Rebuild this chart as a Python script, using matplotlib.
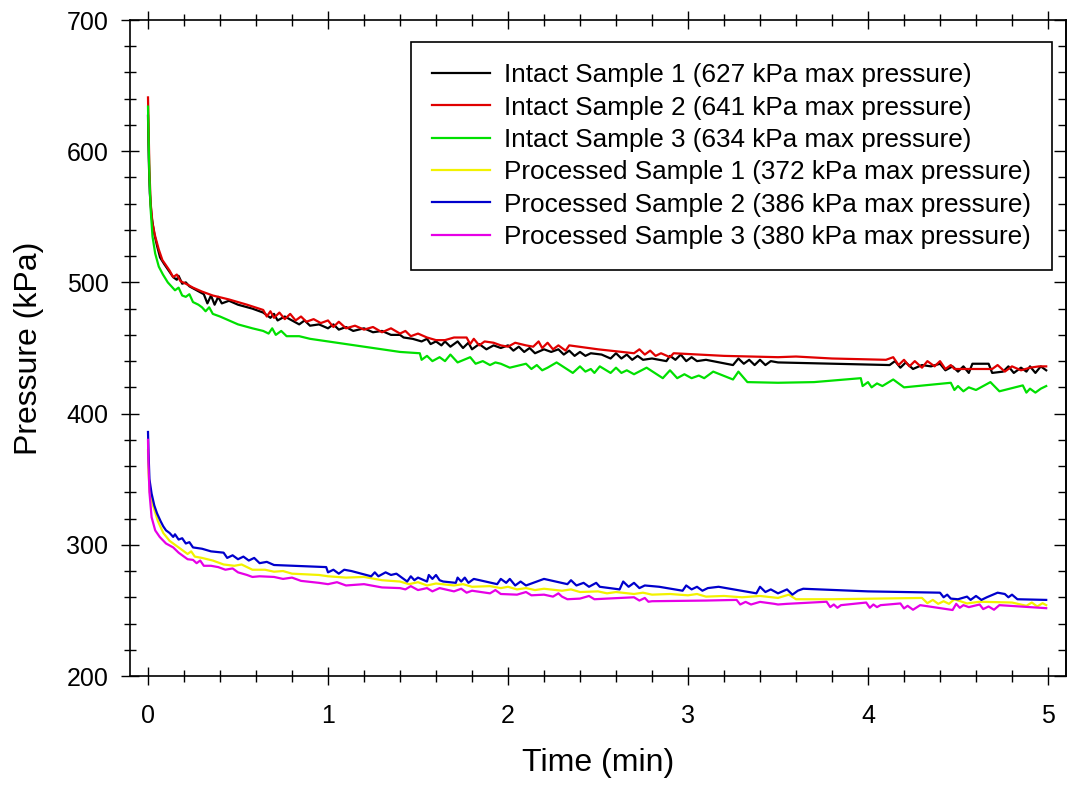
import matplotlib
matplotlib.use("Agg")
import matplotlib.pyplot as plt
from matplotlib.ticker import MultipleLocator

plt.rcParams['font.family'] = ['Liberation Sans', 'DejaVu Sans']

# values (time in min, pressure in kPa)
t_int1 = [0, 0.004, 0.01, 0.02, 0.035, 0.05, 0.067, 0.09, 0.12, 0.14,
          0.16, 0.17, 0.19, 0.21, 0.23, 0.27, 0.31, 0.33, 0.35, 0.37,
          0.39, 0.41, 0.45, 0.5, 0.58, 0.64, 0.68, 0.7, 0.72, 0.76,
          0.8, 0.84, 0.87, 0.9, 0.95, 1.0, 1.03, 1.06, 1.1, 1.14,
          1.2, 1.25, 1.3, 1.35, 1.4, 1.42, 1.47, 1.52, 1.55, 1.57,
          1.6, 1.63, 1.65, 1.68, 1.72, 1.75, 1.78, 1.8, 1.84, 1.88,
          1.92, 1.96, 2.0, 2.03, 2.06, 2.09, 2.12, 2.15, 2.2, 2.24,
          2.28, 2.31, 2.34, 2.37, 2.4, 2.43, 2.46, 2.52, 2.57, 2.6,
          2.63, 2.66, 2.69, 2.72, 2.75, 2.8, 2.88, 2.9, 2.93, 2.96,
          2.99, 3.02, 3.05, 3.1, 3.25, 3.28, 3.31, 3.34, 3.37, 3.4,
          3.43, 3.46, 3.5, 3.8, 4.12, 4.15, 4.18, 4.21, 4.25, 4.3,
          4.35, 4.4, 4.43, 4.47, 4.5, 4.53, 4.56, 4.58, 4.67, 4.69,
          4.75, 4.78, 4.81, 4.85, 4.88, 4.9, 4.93, 4.96, 4.99]
p_int1 = [627, 595, 568, 550, 537, 528, 519, 514, 508, 504,
          502, 505, 499, 500, 497, 494, 491, 484, 490, 483,
          489, 484, 486, 483, 480, 477, 473, 476, 471, 474,
          471, 468, 471, 467, 468, 465, 468, 464, 466, 463,
          465, 462, 463, 460, 460, 458, 457, 455, 457, 453,
          455, 452, 455, 451, 455, 450, 454, 449, 453, 449,
          452, 450, 452, 448, 451, 447, 450, 446, 449, 447,
          449, 445, 448, 444, 447, 444, 446, 445, 442, 446,
          442, 445, 441, 444, 441, 442, 440, 444, 441, 445,
          440, 443, 440, 441, 437, 442, 438, 441, 437, 441,
          437, 440, 439, 438, 437, 440, 435, 439, 434, 437,
          436, 438, 433, 436, 432, 436, 431, 438, 438, 431,
          432, 436, 431, 435, 432, 436, 431, 436, 433]

t_int2 = [0, 0.003, 0.008, 0.015, 0.025, 0.04, 0.06, 0.08, 0.1, 0.12,
          0.14, 0.16, 0.18, 0.21, 0.25, 0.3, 0.36, 0.45, 0.55, 0.64,
          0.66, 0.68, 0.7, 0.73, 0.76, 0.79, 0.82, 0.85, 0.88, 0.92,
          0.96, 1.0, 1.03, 1.06, 1.1, 1.15, 1.2, 1.25, 1.3, 1.35,
          1.4, 1.43, 1.46, 1.5, 1.55, 1.6, 1.65, 1.7, 1.77, 1.79,
          1.81, 1.84, 1.87, 1.92, 1.96, 2.0, 2.04, 2.1, 2.14, 2.17,
          2.19, 2.22, 2.25, 2.28, 2.32, 2.34, 2.5, 2.7, 2.73, 2.76,
          2.79, 2.82, 2.85, 2.9, 2.92, 3.2, 3.5, 3.6, 3.8, 4.1,
          4.14, 4.17, 4.2, 4.23, 4.26, 4.3, 4.33, 4.37, 4.4, 4.43,
          4.46, 4.48, 4.69, 4.72, 4.76, 4.8, 4.85, 4.9, 4.95, 4.99]
p_int2 = [641, 620, 585, 560, 545, 535, 525, 517, 513, 509,
          504, 506, 501, 499, 496, 493, 490, 487, 483, 479,
          474, 478, 473, 477, 472, 476, 471, 474, 470, 472,
          469, 471, 466, 470, 465, 467, 464, 466, 462, 465,
          461, 463, 459, 461, 458, 456, 456, 458, 458, 453,
          457, 452, 455, 454, 452, 451, 454, 452, 451, 455,
          450, 454, 449, 452, 448, 452, 449, 446, 449, 445,
          448, 444, 446, 443, 446, 444, 443, 443.5, 442, 441,
          443, 437, 441, 436, 440, 435, 440, 436, 440, 434,
          437, 434, 434, 437, 432, 436, 433, 435, 436, 436]

t_int3 = [0, 0.003, 0.008, 0.015, 0.025, 0.04, 0.06, 0.083, 0.11, 0.13,
          0.15, 0.17, 0.19, 0.21, 0.23, 0.25, 0.28, 0.3, 0.32, 0.34,
          0.36, 0.4, 0.45, 0.5, 0.58, 0.64, 0.67, 0.69, 0.71, 0.74,
          0.77, 0.84, 0.9, 1.0, 1.1, 1.2, 1.3, 1.4, 1.51, 1.52,
          1.55, 1.58, 1.62, 1.65, 1.68, 1.72, 1.79, 1.82, 1.86, 1.9,
          1.93, 1.96, 2.01, 2.1, 2.13, 2.16, 2.19, 2.22, 2.27, 2.36,
          2.4, 2.43, 2.46, 2.48, 2.51, 2.57, 2.6, 2.63, 2.66, 2.7,
          2.77, 2.86, 2.9, 2.94, 2.98, 3.02, 3.06, 3.09, 3.14, 3.25,
          3.28, 3.33, 3.5, 3.7, 3.96, 3.97, 4.0, 4.02, 4.05, 4.08,
          4.14, 4.2, 4.46, 4.48, 4.5, 4.53, 4.56, 4.6, 4.68, 4.73,
          4.86, 4.88, 4.9, 4.93, 4.96, 4.99]
p_int3 = [634, 610, 580, 555, 535, 522, 512, 506, 500, 497,
          494, 496, 490, 489, 491, 485, 483, 481, 478, 481,
          476, 474, 471, 468, 465, 463, 461, 465, 460, 463,
          459, 459, 457, 455, 453, 451, 449, 447, 446, 441,
          444, 440, 443, 440, 445, 439, 443, 438, 440, 437,
          439, 438, 435, 438, 434, 437, 433, 435, 439, 431,
          436, 432, 434, 431, 436, 431, 435, 431, 433, 430,
          435, 427, 433, 427, 430, 427, 429, 427, 432, 426,
          432, 424, 423.5, 424, 427, 421, 424, 420, 423, 421,
          426, 420, 423.5, 418, 421, 417, 420, 418, 424, 417,
          421.5, 416, 419, 416, 419, 421]

t_proc1 = [0, 0.003, 0.01, 0.03, 0.055, 0.085, 0.12, 0.17, 0.22, 0.24,
           0.26, 0.3, 0.36, 0.42, 0.48, 0.52, 0.58, 0.65, 0.7, 0.75,
           0.8, 0.95, 1.0, 1.1, 1.2, 1.3, 1.4, 1.45, 1.5, 1.55,
           1.6, 1.7, 1.75, 1.8, 1.9, 1.96, 2.0, 2.05, 2.1, 2.15,
           2.2, 2.3, 2.35, 2.4, 2.5, 2.55, 2.6, 2.7, 2.75, 2.8,
           2.9, 3.0, 3.05, 3.1, 3.2, 3.3, 3.4, 3.5, 3.56, 3.6,
           3.8, 4.3, 4.33, 4.36, 4.39, 4.42, 4.45, 4.48, 4.55, 4.62,
           4.8, 4.88, 4.91, 4.94, 4.97, 4.99]
p_proc1 = [372, 355, 340, 329, 318, 309, 303, 298, 293, 295,
           291, 290, 288, 285, 284, 285, 281, 281, 279.5, 280,
           278, 277, 276, 275, 275.5, 273, 272, 270, 271.5, 269,
           270.5, 269, 270, 268, 268.5, 267, 268, 266, 267, 265.5,
           266.5, 265, 266, 264, 264.5, 263, 264, 262.5, 263.5, 262,
           262.5, 261.5, 262.5, 260.5, 261, 260, 261, 259.5, 262, 258.5,
           258.5, 259.5, 255.5, 258, 255, 257, 255, 258.5, 255.3, 256.6,
           256, 253.5, 256, 253, 255.5, 254]

t_proc2 = [0, 0.003, 0.008, 0.02, 0.035, 0.05, 0.07, 0.085, 0.1, 0.12,
           0.14, 0.15, 0.17, 0.19, 0.21, 0.23, 0.25, 0.3, 0.35, 0.42,
           0.44, 0.47, 0.5, 0.53, 0.56, 0.59, 0.62, 0.66, 0.7, 0.99,
           1.0, 1.03, 1.06, 1.09, 1.13, 1.24, 1.26, 1.28, 1.32, 1.35,
           1.38, 1.44, 1.46, 1.48, 1.5, 1.55, 1.56, 1.58, 1.6, 1.62,
           1.64, 1.71, 1.72, 1.74, 1.76, 1.78, 1.81, 1.94, 1.96, 1.99,
           2.01, 2.04, 2.07, 2.1, 2.2, 2.33, 2.35, 2.38, 2.42, 2.45,
           2.49, 2.51, 2.62, 2.64, 2.67, 2.7, 2.73, 2.76, 2.84, 2.97,
           2.99, 3.02, 3.05, 3.08, 3.11, 3.17, 3.38, 3.4, 3.43, 3.46,
           3.5, 3.55, 3.58, 3.61, 3.64, 4.0, 4.4, 4.42, 4.44, 4.46,
           4.5, 4.55, 4.57, 4.6, 4.63, 4.66, 4.72, 4.76, 4.78, 4.8,
           4.83, 4.99]
p_proc2 = [386, 370, 350, 339, 330, 324, 318, 314, 311, 309,
           306, 308, 304, 305, 301, 302, 298, 297, 295, 294,
           290, 292, 289, 291, 288, 290, 286, 287, 284.6, 283,
           279, 281, 278, 281, 280, 276, 279, 276, 279, 277,
           278, 272, 276, 273, 275, 272, 277, 274, 277, 273,
           272, 271, 275, 272, 275, 271, 274, 270, 274, 271,
           274, 269, 272, 269, 274, 270, 273, 269, 271, 268,
           271, 268, 266, 272, 268, 271, 267, 269, 268, 265,
           269, 266, 268, 265, 267, 268, 263, 268, 264, 266,
           263, 266, 262, 265, 266.5, 264.5, 263.5, 260, 262, 259,
           258.5, 260.5, 258, 261, 258, 260, 263.5, 262.5, 260, 262,
           258.5, 258]

t_proc3 = [0, 0.002, 0.008, 0.02, 0.04, 0.065, 0.1, 0.14, 0.17, 0.2,
           0.22, 0.25, 0.27, 0.29, 0.31, 0.35, 0.39, 0.43, 0.47, 0.5,
           0.55, 0.58, 0.62, 0.7, 0.75, 0.8, 0.85, 0.95, 1.0, 1.05,
           1.1, 1.2, 1.3, 1.4, 1.43, 1.46, 1.5, 1.55, 1.58, 1.62,
           1.7, 1.74, 1.77, 1.8, 1.9, 1.93, 1.96, 2.05, 2.1, 2.13,
           2.2, 2.25, 2.28, 2.3, 2.33, 2.4, 2.45, 2.48, 2.55, 2.7,
           2.73, 2.76, 2.78, 2.8, 3.1, 3.27, 3.29, 3.32, 3.35, 3.4,
           3.48, 3.5, 3.55, 3.77, 3.79, 3.81, 3.83, 3.85, 3.99, 4.01,
           4.03, 4.05, 4.07, 4.18, 4.2, 4.22, 4.25, 4.29, 4.47, 4.49,
           4.51, 4.53, 4.56, 4.62, 4.64, 4.67, 4.7, 4.73, 4.99]
p_proc3 = [380, 365, 340, 321, 311, 306, 301, 298, 294, 291,
           289, 288.5, 286, 288, 284, 284, 283, 281, 282, 279,
           277, 275.5, 276, 275.5, 274, 275, 272.5, 271, 270, 271.5,
           269, 270, 267.5, 267, 266, 268.5, 265.5, 267, 264.5, 267,
           264.5, 266.5, 263.5, 265, 263, 265.5, 262.5, 262, 264, 261.5,
           262, 260.5, 263, 260.5, 258.5, 259, 261, 258.5, 259, 260,
           257.5, 259.5, 256.6, 257, 257.5, 258, 254.5, 256.5, 254.5, 256.5,
           255, 254.5, 255, 256.6, 252.5, 254.5, 252, 254, 256, 252,
           254.5, 252.5, 254, 255.3, 251.5, 253.5, 250.5, 254, 250.3, 255,
           252, 254, 252.5, 254.5, 251, 253, 250.5, 254, 251.7]

labels = ['Intact Sample 1 (627 kPa max pressure)',
          'Intact Sample 2 (641 kPa max pressure)',
          'Intact Sample 3 (634 kPa max pressure)',
          'Processed Sample 1 (372 kPa max pressure)',
          'Processed Sample 2 (386 kPa max pressure)',
          'Processed Sample 3 (380 kPa max pressure)']
colors = ['#000000', '#e00000', '#00e000', '#f2f200', '#0000cc', '#e600e6']

series = [(t_int1, p_int1), (t_int2, p_int2), (t_int3, p_int3),
          (t_proc1, p_proc1), (t_proc2, p_proc2), (t_proc3, p_proc3)]
for t, p in series:
    assert len(t) == len(p), (len(t), len(p))

fig = plt.figure(figsize=(10.68, 7.85), dpi=100)
ax = fig.add_axes([130 / 1068, 109 / 785, 936 / 1068, 656 / 785])

for (t, p), lab, col in zip(series, labels, colors):
    ax.plot(t, p, color=col, linewidth=1.6, label=lab)

ax.set_xlim(-0.1, 5.1)
ax.set_ylim(200, 700)
ax.xaxis.set_major_locator(MultipleLocator(1))
ax.xaxis.set_minor_locator(MultipleLocator(0.2))
ax.yaxis.set_major_locator(MultipleLocator(100))
ax.yaxis.set_minor_locator(MultipleLocator(20))

for s in ax.spines.values():
    s.set_linewidth(1.2)

ax.tick_params(axis='x', which='both', direction='inout', top=True, width=1)
ax.tick_params(axis='x', which='major', length=13, pad=14, labelsize=18)
ax.tick_params(axis='x', which='minor', length=9)
ax.tick_params(axis='y', which='both', direction='inout', right=False, width=1)
ax.tick_params(axis='y', which='major', length=13, pad=9, labelsize=18)
ax.tick_params(axis='y', which='minor', length=9)

# right side ticks point inward only
rax = ax.secondary_yaxis('right')
rax.yaxis.set_major_locator(MultipleLocator(100))
rax.yaxis.set_minor_locator(MultipleLocator(20))
rax.tick_params(which='both', direction='in', labelright=False, width=1)
rax.tick_params(which='major', length=9)
rax.tick_params(which='minor', length=6)
rax.spines['right'].set_linewidth(1.2)

ax.set_xlabel('Time (min)', fontsize=23, labelpad=14)
ax.set_ylabel('Pressure (kPa)', fontsize=23, labelpad=16)

leg = ax.legend(loc='upper right', bbox_to_anchor=(0.985, 0.966), borderaxespad=0,
                fontsize=18.8, frameon=True, fancybox=False, framealpha=1,
                edgecolor='black', handlelength=2.2, handletextpad=0.55,
                labelspacing=0.32, borderpad=0.8)
leg.get_frame().set_linewidth(1.2)

fig.savefig('out.png', dpi=100)
